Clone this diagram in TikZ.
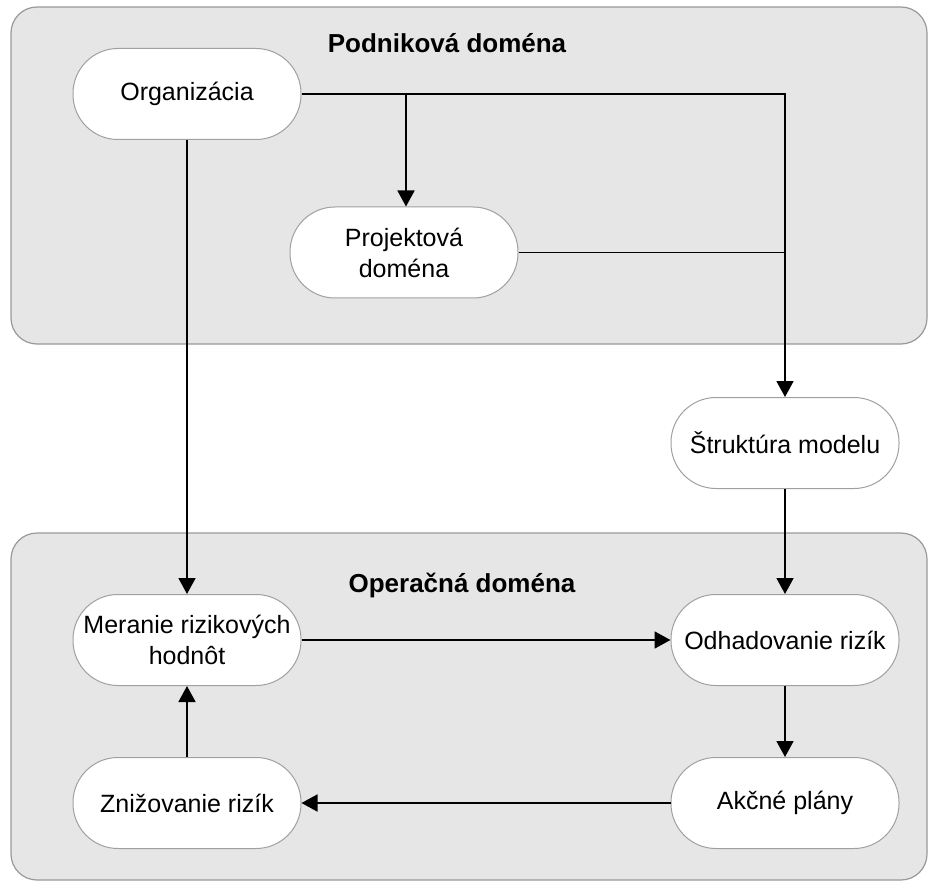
\documentclass[tikz,border=0pt]{standalone}
\usepackage{fontspec}
\setmainfont{Liberation Sans}
\usetikzlibrary{arrows.meta}
\definecolor{panelfill}{HTML}{E6E6E6}
\definecolor{panelline}{HTML}{999999}
\definecolor{nodeline}{HTML}{A0A0A0}
\begin{document}
\begin{tikzpicture}[x=1pt,y=-1pt,
  panel/.style={draw=panelline, fill=panelfill, line width=1.2pt, rounded corners=26pt},
  proc/.style={draw=nodeline, fill=white, line width=1pt, rectangle, rounded corners=45pt,
    minimum width=228pt, minimum height=91pt, inner sep=0pt, align=center,
    font=\fontsize{25}{31}\selectfont},
  ttl/.style={font=\fontsize{26}{31}\selectfont\bfseries, anchor=base, inner sep=0pt},
  conn/.style={line width=1.8pt, black},
  arr/.style={conn, -{Triangle[width=17pt,length=16pt]}}]
\useasboundingbox (0,0) rectangle (928,882);
% panels
\draw[panel] (11,7) rectangle (927,344);
\draw[panel] (11,533) rectangle (927,880);
\node[ttl] (t1) at (447,53) {Podniková doména};
\node[ttl] (t2) at (462,592) {Operačná doména};
% nodes
\node[proc] (org) at (187,94) {Organizácia};
\node[proc] (proj) at (404,252.5) {Projektová\\doména};
\node[proc] (strk) at (785,443) {Štruktúra modelu};
\node[proc] (mer) at (187,640) {Meranie rizikových\\hodnôt};
\node[proc] (odh) at (785,640) {Odhadovanie rizík};
\node[proc] (zniz) at (187,803) {Znižovanie rizík};
\node[proc] (akc) at (785,803) {Akčné plány};
% junctions
\coordinate (b1) at ([xshift=2pt]proj.north |- org.east);
\coordinate (j1) at (strk.north |- org.east);
\coordinate (j2) at (strk.north |- proj.east);
% connectors
\draw[arr] (org.east) -- (j1) -- (strk.north);
\draw[arr] (b1) -- ([xshift=2pt]proj.north);
\draw[conn] (proj.east) -- (j2);
\draw[arr] (org.south) -- (mer.north);
\draw[arr] (strk.south) -- (odh.north);
\draw[arr] (mer.east) -- (odh.west);
\draw[arr] (odh.south) -- (akc.north);
\draw[arr] (akc.west) -- (zniz.east);
\draw[arr] (zniz.north) -- (mer.south);
\end{tikzpicture}
\end{document}
